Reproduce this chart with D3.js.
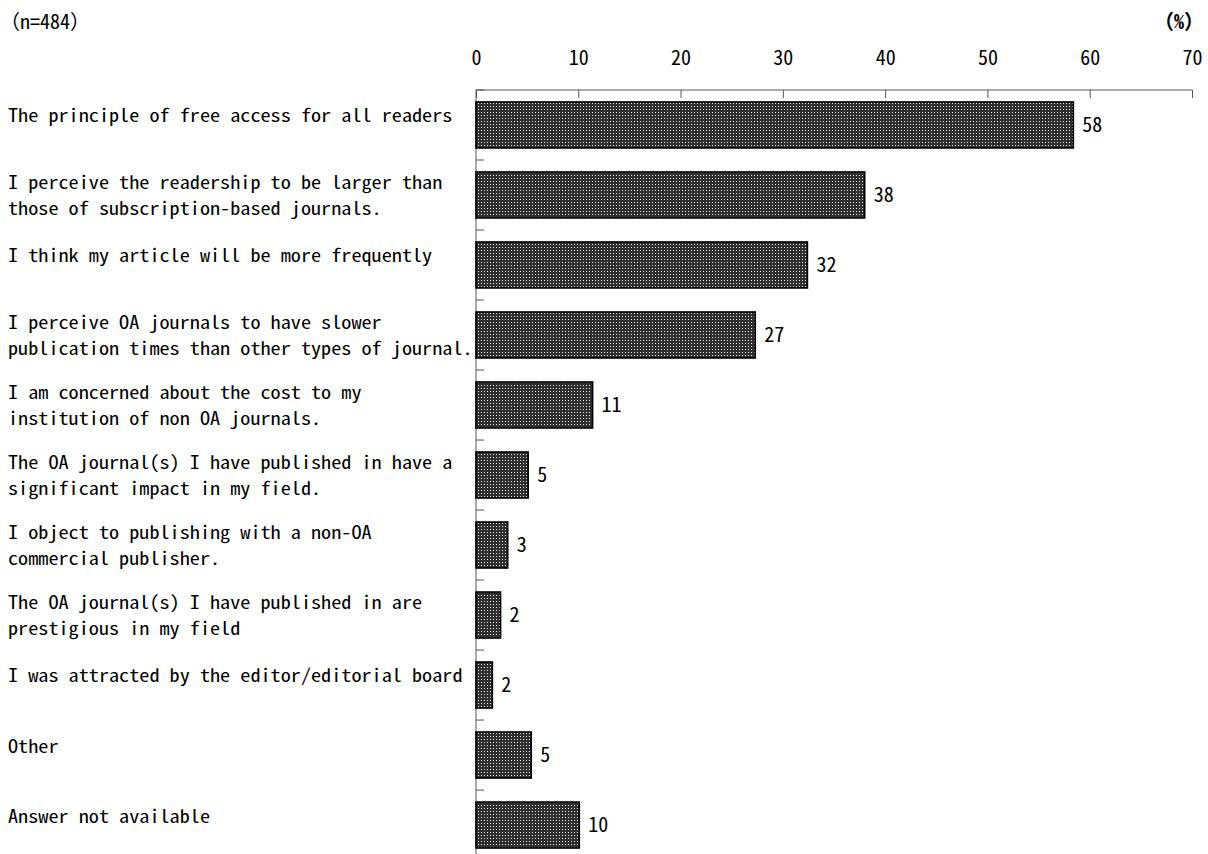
<!DOCTYPE html>
<html>
<head>
<meta charset="utf-8">
<script src="https://cdn.jsdelivr.net/npm/d3@7"></script>
<style>
  html, body { margin: 0; padding: 0; background: #fff; }
  svg { display: block; }
  text { font-family: "Noto Sans Mono CJK JP", "Noto Sans CJK JP", "DejaVu Sans Mono", monospace; fill: #000; }
</style>
</head>
<body>
<svg id="chart" width="1208" height="854"></svg>
<script>
// Reasons for choosing an open access journal (share of respondents, %)
const categories = [
  ["The principle of free access for all readers"],
  ["I perceive the readership to be larger than", "those of subscription-based journals."],
  ["I think my article will be more frequently"],
  ["I perceive OA journals to have slower", "publication times than other types of journal."],
  ["I am concerned about the cost to my", "institution of non OA journals."],
  ["The OA journal(s) I have published in have a", "significant impact in my field."],
  ["I object to publishing with a non-OA", "commercial publisher."],
  ["The OA journal(s) I have published in are", "prestigious in my field"],
  ["I was attracted by the editor/editorial board"],
  ["Other"],
  ["Answer not available"]
];
const values = [58.4, 38.0, 32.4, 27.3, 11.4, 5.1, 3.1, 2.4, 1.6, 5.4, 10.1];
const xTicks = [0, 10, 20, 30, 40, 50, 60, 70];
const sampleLabel = "（n=484）";
const unitLabel = "（%）";

const svg = d3.select("#chart");

const x = d3.scaleLinear().domain([0, 70]).range([476, 1192]);
const y = d3.scaleBand()
  .domain(d3.range(categories.length))
  .range([90, 860])
  .paddingInner(0.343)
  .paddingOuter(0.171);

// dotted fill for the bars
const defs = svg.append("defs");
const pat = defs.append("pattern")
  .attr("id", "dots")
  .attr("patternUnits", "userSpaceOnUse")
  .attr("width", 3).attr("height", 3);
pat.append("rect").attr("width", 3).attr("height", 3).attr("fill", "#303030");
pat.append("rect").attr("x", 1).attr("y", 1).attr("width", 1).attr("height", 1).attr("fill", "#e4e4e4");

// header texts
svg.append("text").attr("x", 0).attr("y", 29)
  .style("font-size", "20px").text(sampleLabel);
svg.append("text").attr("x", 1204).attr("y", 29)
  .attr("text-anchor", "end")
  .style("font-size", "20px").style("font-weight", "bold").text(unitLabel);

// top value axis
const xAxis = d3.axisTop(x).tickValues(xTicks).tickSize(-8).tickPadding(0).tickFormat(d3.format("d"));
const gx = svg.append("g").attr("transform", "translate(0,90)").call(xAxis);
gx.select(".domain").attr("stroke", "#555").attr("d", `M${x(0)},0H${x(70)}`);
gx.selectAll(".tick line").attr("stroke", "#555");
gx.selectAll(".tick text")
  .attr("y", -25)
  .style("font-size", "20px")
  .style("font-family", "'Noto Sans Mono CJK JP', 'Noto Sans CJK JP', monospace")
  .attr("fill", "#000");

// category axis
const boundaries = d3.range(categories.length + 1).map(i => 90 + i * y.step());
const gy = svg.append("g");
gy.append("line")
  .attr("x1", x(0)).attr("x2", x(0))
  .attr("y1", 90).attr("y2", 854)
  .attr("stroke", "#555");
gy.selectAll("line.tk").data(boundaries.slice(0, -1)).join("line")
  .attr("class", "tk")
  .attr("x1", x(0)).attr("x2", x(0) + 8)
  .attr("y1", d => d).attr("y2", d => d)
  .attr("stroke", "#555");

// bars
svg.append("g").selectAll("rect").data(values).join("rect")
  .attr("x", x(0))
  .attr("y", (d, i) => y(i))
  .attr("width", d => x(d) - x(0))
  .attr("height", y.bandwidth())
  .attr("fill", "url(#dots)")
  .attr("stroke", "#000")
  .attr("stroke-width", 1.6);

// value labels
svg.append("g").selectAll("text").data(values).join("text")
  .attr("x", d => x(d) + 9)
  .attr("y", (d, i) => y(i) + y.bandwidth() / 2)
  .attr("dy", "0.36em")
  .style("font-size", "20px")
  .text(d => d3.format(".0f")(d));

// category labels: one text per line, glyphs widened to a 10.1px cell
const charW = 10.1;
const labG = svg.append("g").selectAll("g").data(categories).join("g");
labG.each(function(lines, i) {
  const cy = y(i) + y.bandwidth() / 2;
  const offsets = lines.length === 1 ? [-9] : [-12, 14];
  d3.select(this).selectAll("text").data(lines).join("text")
    .attr("x", 8)
    .attr("y", (d, j) => cy + offsets[j])
    .attr("dy", "0.36em")
    .style("font-size", "18px")
    .attr("textLength", d => d.length * charW)
    .attr("lengthAdjust", "spacingAndGlyphs")
    .text(d => d);
});
</script>
</body>
</html>
